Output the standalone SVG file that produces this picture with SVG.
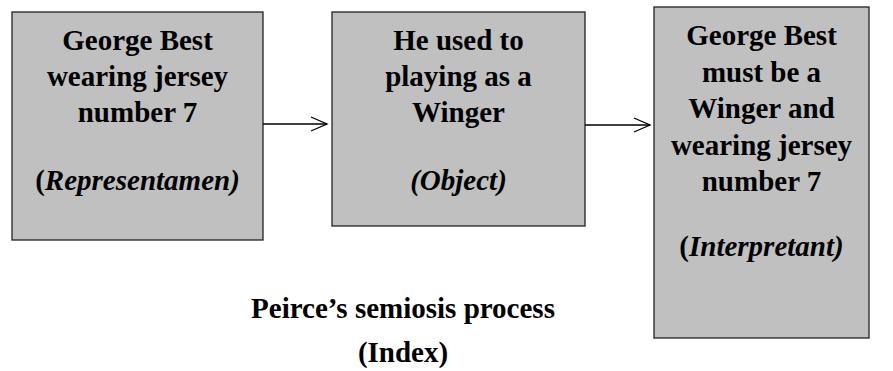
<svg xmlns="http://www.w3.org/2000/svg" width="893" height="371" viewBox="0 0 893 371">
<defs>
<style>
.box{fill:#c0c0c0;stroke:#222;stroke-width:1.3}
.t{font-family:"Liberation Serif","Times New Roman",serif;font-weight:bold;font-size:29px;fill:#000;text-anchor:middle}
.i{font-style:italic}
.c{fill:none;stroke:#000;stroke-width:1.3}
</style>
<marker id="ah" markerWidth="20" markerHeight="20" refX="17" refY="8" orient="auto" markerUnits="userSpaceOnUse">
<path d="M1,1 L17,8 L1,15" fill="none" stroke="#000" stroke-width="1.3"/>
</marker>
</defs>
<rect width="893" height="371" fill="#fff"/>
<g id="representamen">
<rect class="box" x="12" y="12" width="251" height="228"/>
<text class="t" x="137.5" y="50">George Best</text>
<text class="t" x="137.5" y="86">wearing jersey</text>
<text class="t" x="137.5" y="122">number 7</text>
<text class="t" x="137.5" y="190">(<tspan class="i">Representamen)</tspan></text>
</g>
<g id="object">
<rect class="box" x="332" y="12" width="253" height="214"/>
<text class="t" x="458.5" y="50">He used to</text>
<text class="t" x="458.5" y="86">playing as a</text>
<text class="t" x="458.5" y="122">Winger</text>
<text class="t i" x="458.5" y="190">(Object)</text>
</g>
<g id="interpretant">
<rect class="box" x="654" y="7" width="215" height="331"/>
<text class="t" x="761.5" y="45">George Best</text>
<text class="t" x="761.5" y="82">must be a</text>
<text class="t" x="761.5" y="118">Winger and</text>
<text class="t" x="761.5" y="155">wearing jersey</text>
<text class="t" x="761.5" y="191">number 7</text>
<text class="t" x="761.5" y="256">(<tspan class="i">Interpretant)</tspan></text>
</g>
<g id="connectors">
<line class="c" x1="263" y1="124" x2="327" y2="124" marker-end="url(#ah)"/>
<line class="c" x1="585" y1="125" x2="650" y2="125" marker-end="url(#ah)"/>
</g>
<g id="caption">
<text class="t" x="403" y="318">Peirce’s semiosis process</text>
<text class="t" x="403" y="362">(Index)</text>
</g>
</svg>
